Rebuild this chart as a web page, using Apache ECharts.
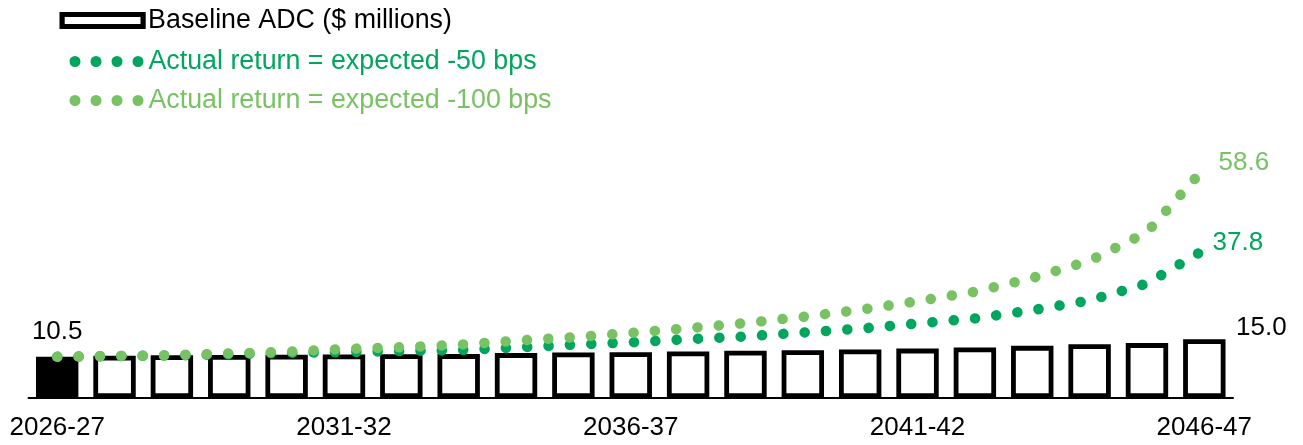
<!DOCTYPE html>
<html>
<head>
<meta charset="utf-8">
<script src="https://cdn.jsdelivr.net/npm/echarts@6/dist/echarts.min.js"></script>
<style>
html,body{margin:0;padding:0;background:#fff;}
#chart{width:1303px;height:445px;}
</style>
</head>
<body>
<div id="chart"></div>
<script>
const categories = ['2026-27','2027-28','2028-29','2029-30','2030-31','2031-32','2032-33','2033-34','2034-35','2035-36','2036-37','2037-38','2038-39','2039-40','2040-41','2041-42','2042-43','2043-44','2044-45','2045-46','2046-47'];
const baselineADC = [10.5, 10.8, 10.9, 11.0, 11.05, 11.1, 11.15, 11.2, 11.45, 11.6, 11.7, 11.85, 12.05, 12.2, 12.4, 12.6, 12.9, 13.3, 13.7, 14.0, 15.0];
const minus50 = [10.5, 10.7, 10.85, 11.2, 11.5, 11.7, 12.0, 12.2, 12.9, 13.6, 14.2, 15.0, 15.7, 16.7, 17.7, 19.0, 20.3, 22.4, 24.9, 29.2, 37.8];
const minus100 = [10.5, 10.7, 10.9, 11.35, 11.8, 12.5, 12.95, 13.6, 14.6, 15.5, 16.6, 17.8, 19.1, 20.7, 22.5, 24.7, 27.1, 30.6, 35.0, 42.3, 58.6];
const seriesNames = ['Baseline ADC ($ millions)', 'Actual return = expected -50 bps', 'Actual return = expected -100 bps'];

const FONT = 'Liberation Sans, Arial, sans-serif';
const DARK = '#00A65D';
const LIGHT = '#78C263';
const dotsIcon = 'path://M0,5.5A5.5,5.5,0,1,0,11,5.5A5.5,5.5,0,1,0,0,5.5Z M21,5.5A5.5,5.5,0,1,0,32,5.5A5.5,5.5,0,1,0,21,5.5Z M42,5.5A5.5,5.5,0,1,0,53,5.5A5.5,5.5,0,1,0,42,5.5Z M63,5.5A5.5,5.5,0,1,0,74,5.5A5.5,5.5,0,1,0,63,5.5Z';
const last = categories.length - 1;

const barData = baselineADC.map((v, i) => {
  const d = { value: v };
  if (i === 0) {
    d.itemStyle = { color: '#000' };
    d.label = { show: true, position: 'top', distance: 12 };
  } else if (i === last) {
    d.label = { show: true, position: 'top', distance: -2, offset: [57, 0] };
  }
  return d;
});

function lineData(arr, lbl) {
  return arr.map((v, i) => i === last ? { value: v, label: lbl } : { value: v });
}

const chart = echarts.init(document.getElementById('chart'), null, { renderer: 'canvas' });
chart.setOption({
  animation: false,
  backgroundColor: '#fff',
  textStyle: { fontFamily: FONT },
  legend: [
    {
      left: 59.5, top: 7, padding: 0, selectedMode: false,
      data: [seriesNames[0]], icon: 'rect', itemWidth: 81, itemHeight: 12,
      itemStyle: { color: '#fff', borderColor: '#000', borderWidth: 5.2 },
      textStyle: { fontSize: 26.8, color: '#000', fontFamily: FONT, lineHeight: 26 }
    },
    {
      left: 69.5, top: 48, padding: 0, selectedMode: false,
      data: [seriesNames[1]], icon: dotsIcon, itemWidth: 74, itemHeight: 11,
      itemStyle: { color: DARK, borderWidth: 0 },
      textStyle: { fontSize: 26.8, color: DARK, fontFamily: FONT, lineHeight: 26 }
    },
    {
      left: 69.5, top: 87, padding: 0, selectedMode: false,
      data: [seriesNames[2]], icon: dotsIcon, itemWidth: 74, itemHeight: 11,
      itemStyle: { color: LIGHT, borderWidth: 0 },
      textStyle: { fontSize: 26.8, color: LIGHT, fontFamily: FONT, lineHeight: 26 }
    }
  ],
  grid: { left: 28.5, right: 70, top: 123.6, bottom: 47, containLabel: false },
  xAxis: {
    type: 'category',
    data: categories,
    boundaryGap: true,
    axisLine: { lineStyle: { color: '#000', width: 2 } },
    axisTick: { show: false },
    axisLabel: { interval: 4, fontSize: 26, color: '#000', fontFamily: FONT, margin: 17 },
    splitLine: { show: false }
  },
  yAxis: {
    type: 'value', min: 0, max: 70,
    show: false,
    splitLine: { show: false }
  },
  series: [
    {
      name: seriesNames[0],
      type: 'bar',
      data: barData,
      barWidth: 42.4,
      itemStyle: { color: '#fff', borderColor: '#000', borderWidth: 4.8 },
      label: { show: false, fontSize: 26, color: '#000', fontFamily: FONT, formatter: p => p.value.toFixed(1) },
      z: 2
    },
    {
      name: seriesNames[1],
      type: 'line',
      data: lineData(minus50, { show: true, position: 'right', distance: 8, offset: [0, -7] }),
      symbol: 'circle', symbolSize: 0.5, showSymbol: true,
      itemStyle: { color: DARK },
      lineStyle: { color: DARK, width: 10.5, type: [0.1, 21.27], cap: 'round', join: 'round' },
      label: { show: false, fontSize: 26, color: DARK, fontFamily: FONT, formatter: p => p.value.toFixed(1) },
      z: 3
    },
    {
      name: seriesNames[2],
      type: 'line',
      data: lineData(minus100, { show: true, position: 'right', distance: 14, offset: [0, -5] }),
      symbol: 'circle', symbolSize: 0.5, showSymbol: true,
      itemStyle: { color: LIGHT },
      lineStyle: { color: LIGHT, width: 10.5, type: [0.1, 21.27], cap: 'round', join: 'round' },
      label: { show: false, fontSize: 26, color: LIGHT, fontFamily: FONT, formatter: p => p.value.toFixed(1) },
      z: 4
    }
  ]
});
</script>
</body>
</html>
